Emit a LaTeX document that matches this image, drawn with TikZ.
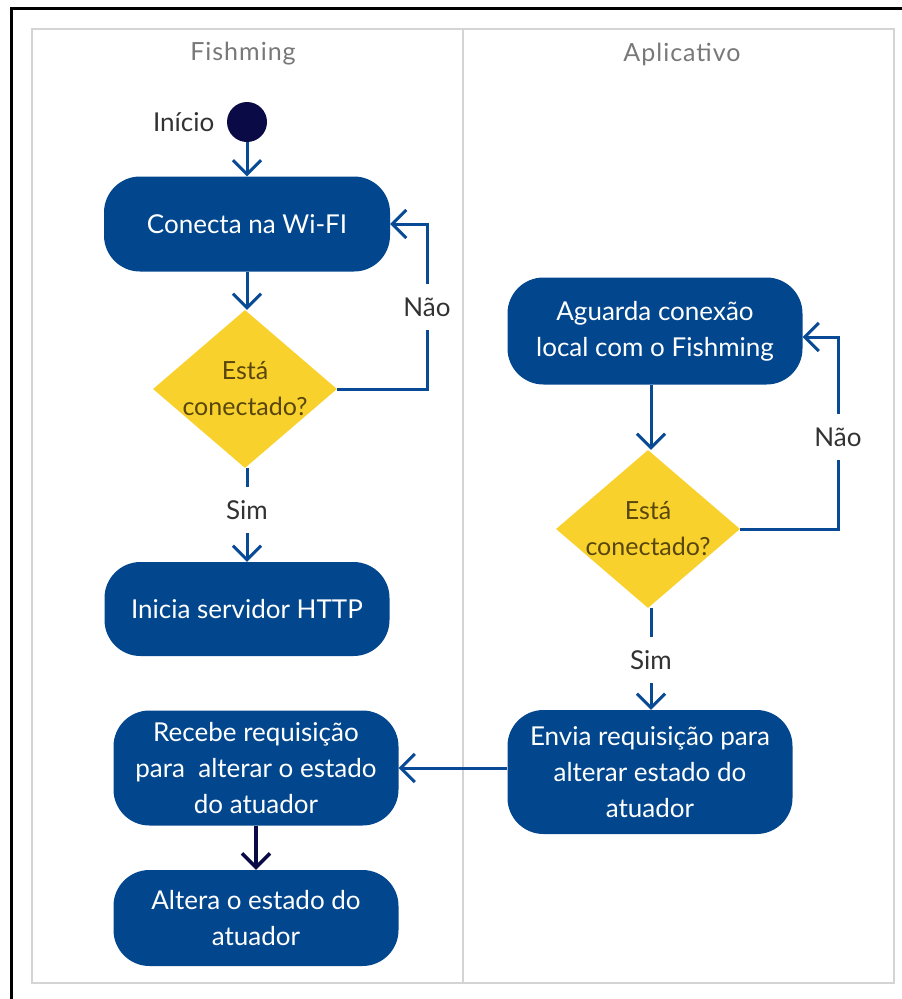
\documentclass[tikz,border=0pt]{standalone}
\usepackage{fontspec}
\setmainfont{Lato}
\usetikzlibrary{arrows.meta,shapes.geometric}
\definecolor{boxblue}{RGB}{2,71,141}
\definecolor{lineblue}{RGB}{8,74,149}
\definecolor{decyellow}{RGB}{249,209,44}
\definecolor{dectext}{RGB}{88,70,12}
\definecolor{startnavy}{RGB}{10,10,70}
\definecolor{lanegray}{RGB}{212,212,212}
\definecolor{hdrgray}{RGB}{120,120,120}
\definecolor{lbltext}{RGB}{50,50,50}
\tikzset{
  act/.style={rectangle, rounded corners=36pt, fill=boxblue, text=white,
    font=\fontsize{26}{36}\selectfont, align=center, inner sep=0pt},
  dec/.style={diamond, aspect=1.16, fill=decyellow, text=dectext,
    font=\fontsize{25}{36}\selectfont, align=center, inner xsep=-30pt, inner ysep=-20pt,
    minimum width=184pt, minimum height=158pt},
  flow/.style={draw=lineblue, line width=3pt, -{Straight Barb[length=14pt,width=28pt,line width=3pt]}},
  plain/.style={draw=lineblue, line width=3pt},
  flowdark/.style={draw=startnavy, line width=3.5pt, -{Straight Barb[length=14pt,width=28pt,line width=3.5pt]}},
  lbl/.style={font=\fontsize{26}{30}\selectfont, text=lbltext, inner sep=0pt, minimum height=46pt},
  hdr/.style={font=\fontsize{25}{30}\selectfont\addfontfeatures{LetterSpace=4}, text=hdrgray, inner sep=0pt}
}
\begin{document}
\begin{tikzpicture}[x=1pt,y=-1pt]
\useasboundingbox (0,0) rectangle (902,999);
% frames
\draw[line width=3pt] (11,1005) -- (11,8) -- (910,8);
\draw[lanegray, line width=2pt] (32,29) rectangle (894,983);
\draw[lanegray, line width=2pt] (463,29) -- (463,983);
\node[hdr] (h1) at (243,54) {Fishming};
\node[hdr] (h2) at (682,54) {Aplicativo};
% left lane
\node[circle, fill=startnavy, minimum size=40pt, inner sep=0pt,
  label={[font=\fontsize{26}{30}\selectfont, text=lbltext, label distance=9pt]left:Início}] (start) at (247,122) {};
\node[act, minimum width=286pt, minimum height=95pt] (conecta) at (247,224) {Conecta na Wi-FI};
\node[dec] (d1) at (245,389) {Está\\conectado?};
\node[act, minimum width=285pt, minimum height=94pt] (inicia) at (247,609) {Inicia servidor HTTP};
\node[act, minimum width=285pt, minimum height=115pt] (recebe) at (256,768) {Recebe requisição\\para\ \ alterar o estado\\do atuador};
\node[act, minimum width=285pt, minimum height=96pt] (altera) at (256,918) {Altera o estado do\\atuador};
% right lane
\node[act, minimum width=295pt, minimum height=107pt] (aguarda) at (655,331) {Aguarda conexão\\local com o Fishming};
\node[dec] (d2) at (648,529) {Está\\conectado?};
\node[act, minimum width=285pt, minimum height=124pt] (envia) at (650,772) {Envia requisição para\\alterar estado do\\atuador};
% labels
\node[lbl] (nao1) at (427,307) {Não};
\node[lbl] (sim1) at (247,510) {Sim};
\node[lbl] (nao2) at (838,437) {Não};
\node[lbl] (sim2) at (651,660) {Sim};
\coordinate (c1) at (427,224);
\coordinate (c2) at (838,337);
% connectors
\draw[flow] (start) -- (conecta);
\draw[flow] (conecta.south) -- (conecta.south |- d1.north);
\draw[plain] (d1.east) -- (d1.east -| nao1) -- (nao1.south);
\draw[flow] (nao1.north) -- (c1) -- (conecta.east |- c1);
\draw[plain] (d1.south -| sim1) -- (sim1.north);
\draw[flow] (sim1.south) -- (inicia.north -| sim1);
\draw[flowdark] (recebe) -- (altera);
\draw[flow] (aguarda.south -| sim2) -- (d2.north -| sim2);
\draw[plain] (d2.east) -- (d2.east -| nao2) -- (nao2.south);
\draw[flow] (nao2.north) -- (c2) -- (aguarda.east |- c2);
\draw[plain] (d2.south -| sim2) -- (sim2.north);
\draw[flow] (sim2.south) -- (envia.north -| sim2);
\draw[flow] (envia.west |- recebe.east) -- (recebe.east);
\end{tikzpicture}
\end{document}
